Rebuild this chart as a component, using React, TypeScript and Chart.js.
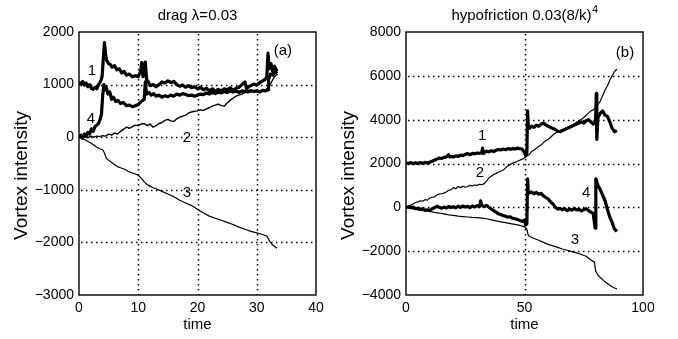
import React, { useEffect, useRef } from 'react';
import { Chart, registerables } from 'chart.js';

Chart.register(...registerables);

const FONT = '"Liberation Sans", Arial, Helvetica, sans-serif';

type Pt = [number, number];

// ---------- Panel (a): drag lambda = 0.03 ----------
const dragTitle = 'drag \u03bb=0.03';
const dragTitleSup = '';
const dragXTicks = [0, 10, 20, 30, 40];
const dragYTicks = [-3000, -2000, -1000, 0, 1000, 2000];

const drag1: Pt[] = [
  [0, 1040], [0.3, 1010], [0.6, 1060], [0.9, 990], [1.2, 1030], [1.5, 960], [1.8, 1000], [2.1, 930],
  [2.4, 910], [2.7, 950], [3.0, 920], [3.3, 1000], [3.6, 1050], [3.9, 1150], [4.1, 1500], [4.3, 1800],
  [4.5, 1550], [4.7, 1450], [5.0, 1400], [5.3, 1380], [5.6, 1330], [6.0, 1360], [6.4, 1280], [6.8, 1300],
  [7.2, 1220], [7.6, 1250], [8.0, 1180], [8.5, 1200], [9.0, 1150], [9.5, 1170], [10.0, 1150], [10.4, 1250],
  [10.6, 1420], [10.8, 1150], [11.0, 1200], [11.2, 1430], [11.4, 1100], [11.7, 1050], [12.0, 980], [12.5, 1000],
  [13.0, 960], [13.5, 1000], [14.0, 1050], [14.5, 1030], [15.0, 1070], [15.5, 1040], [16.0, 1060], [16.5, 1000],
  [17.0, 970], [17.5, 990], [18.0, 950], [18.5, 980], [19.0, 940], [19.5, 960], [20.0, 920], [20.5, 950],
  [21.0, 900], [21.5, 930], [22.0, 880], [22.5, 920], [23.0, 870], [23.5, 910], [24.0, 880], [24.5, 920],
  [25.0, 900], [25.5, 940], [26.0, 890], [26.5, 930], [27.0, 950], [27.5, 1000], [28.0, 1050], [28.3, 920],
  [28.6, 960], [29.0, 980], [29.5, 1010], [30.0, 990], [30.5, 1040], [31.0, 1070], [31.4, 1100], [31.7, 1150],
  [31.9, 1600], [32.1, 1300], [32.4, 1400], [32.7, 1250], [33.0, 1350], [33.3, 1280], [33.5, 1300],
];

const drag2: Pt[] = [
  [0, 0], [0.5, -20], [1, 10], [1.5, -10], [2, 20], [2.5, 0], [3, 20], [3.5, 10], [4, 30], [4.5, 20],
  [5, 60], [5.5, 40], [6, 80], [6.5, 60], [7, 110], [7.5, 150], [8, 190], [8.5, 170], [9, 200], [9.5, 230],
  [10, 220], [10.5, 250], [11, 260], [11.5, 220], [12, 250], [12.5, 190], [13, 220], [13.5, 260], [14, 280],
  [14.5, 320], [15, 340], [15.5, 310], [16, 300], [16.5, 350], [17, 380], [17.5, 400], [18, 420], [18.5, 460],
  [19, 480], [19.5, 494], [20, 500], [20.5, 520], [21, 510], [21.5, 540], [22, 560], [22.5, 590], [23, 610],
  [23.5, 630], [24, 600], [24.5, 590], [25, 650], [25.5, 700], [26, 740], [26.5, 780], [27, 800], [27.5, 820],
  [28, 850], [28.5, 870], [29, 860], [29.5, 880], [30, 870], [30.5, 880], [31, 890], [31.5, 900], [32, 950],
  [32.5, 1050], [33, 1150], [33.5, 1200],
];

const drag3: Pt[] = [
  [0, 0], [0.5, -20], [1, -50], [1.5, -80], [2, -110], [2.5, -150], [3, -190], [3.5, -220], [4, -240],
  [4.3, -300], [4.6, -400], [5, -440], [5.5, -480], [6, -520], [6.5, -560], [7, -580], [7.5, -600], [8, -630],
  [8.5, -660], [9, -680], [9.5, -700], [10, -720], [10.5, -780], [11, -850], [11.5, -900], [12, -930],
  [12.5, -960], [13, -980], [14, -1030], [15, -1080], [16, -1130], [17, -1200], [18, -1250], [19, -1300],
  [20, -1370], [21, -1440], [22, -1500], [23, -1540], [24, -1580], [25, -1620], [26, -1660], [27, -1710],
  [28, -1750], [29, -1790], [30, -1820], [31, -1850], [31.7, -1880], [32.2, -1980], [32.7, -2050], [33.4, -2110],
];

const drag4: Pt[] = [
  [0, 0], [0.3, 40], [0.6, -20], [0.9, 60], [1.2, 20], [1.5, 90], [1.8, 60], [2.1, 160], [2.4, 110],
  [2.7, 200], [3.0, 230], [3.3, 260], [3.6, 350], [3.8, 450], [4.0, 800], [4.2, 1000], [4.4, 900], [4.6, 950],
  [4.9, 820], [5.2, 860], [5.5, 720], [5.8, 760], [6.2, 680], [6.6, 700], [7.0, 640], [7.5, 660], [8.0, 600],
  [8.5, 610], [9.0, 580], [9.5, 600], [10.0, 620], [10.5, 680], [11.0, 720], [11.2, 1050], [11.4, 820],
  [11.8, 850], [12.2, 800], [12.6, 830], [13.0, 780], [13.5, 800], [14.0, 760], [14.5, 790], [15.0, 770],
  [15.5, 800], [16.0, 780], [16.5, 820], [17.0, 800], [17.5, 830], [18.0, 810], [18.5, 790], [19.0, 800],
  [19.5, 780], [20.0, 800], [20.5, 820], [21.0, 810], [21.5, 840], [22.0, 820], [22.5, 850], [23.0, 830],
  [23.5, 860], [24.0, 840], [24.5, 870], [25.0, 850], [25.5, 880], [26.0, 860], [26.5, 880], [27.0, 850],
  [27.5, 880], [28.0, 870], [28.5, 860], [29.0, 890], [29.5, 870], [30.0, 880], [30.5, 860], [31.0, 890],
  [31.5, 880], [31.9, 900], [32.0, 1100], [32.3, 1200], [32.7, 1180], [33.0, 1220], [33.5, 1250],
];

const dragLabels: { text: string; x: number; y: number }[] = [
  { text: '1', x: 2.2, y: 1255 },
  { text: '4', x: 2.0, y: 342 },
  { text: '2', x: 18.2, y: -19 },
  { text: '3', x: 18.2, y: -1065 },
  { text: '(a)', x: 34.4, y: 1635 },
];

// ---------- Panel (b): hypofriction ----------
const hypoTitle = 'hypofriction 0.03(8/k)';
const hypoTitleSup = '4';
const hypoXTicks = [0, 50, 100];
const hypoYTicks = [-4000, -2000, 0, 2000, 4000, 6000, 8000];

const hypo1: Pt[] = [
  [0, 2020], [1, 2000], [2, 2040], [3, 1990], [4, 2030], [5, 2000], [6, 2040], [7, 2010], [8, 2050], [9, 2020],
  [10, 2060], [11, 2100], [12, 2150], [13, 2200], [14, 2250], [15, 2230], [16, 2280], [17, 2300], [18, 2400],
  [18.5, 2300], [19, 2320], [20, 2300], [21, 2350], [22, 2320], [23, 2380], [24, 2360], [25, 2420], [26, 2450],
  [27, 2400], [28, 2460], [29, 2440], [30, 2480], [31, 2460], [32, 2500], [32.3, 2700], [32.6, 2450], [33, 2500],
  [34, 2560], [35, 2530], [36, 2580], [37, 2550], [38, 2600], [39, 2640], [40, 2620], [41, 2660], [42, 2630],
  [43, 2680], [44, 2650], [45, 2680], [46, 2660], [47, 2700], [48, 2680], [49, 2660], [50, 2500], [50.5, 2350],
  [51, 2450], [51.3, 4400], [51.6, 3700], [52, 3600], [53, 3700], [54, 3650], [55, 3750], [56, 3700], [57, 3800],
  [58, 3850], [59, 3750], [60, 3700], [61, 3650], [62, 3600], [63, 3550], [64, 3480], [65, 3450], [66, 3500],
  [67, 3550], [68, 3600], [69, 3650], [70, 3700], [71, 3750], [72, 3800], [73, 3850], [74, 3900], [75, 3850],
  [76, 3950], [77, 4000], [78, 3900], [79, 3800], [80, 3900], [80.3, 5200], [80.5, 3100], [81, 4100], [82, 4300],
  [83, 4400], [84, 4200], [85, 4150], [86, 3900], [87, 3600], [88, 3450], [89, 3500],
];

const hypo2: Pt[] = [
  [0, 0], [1, 40], [2, 100], [3, 150], [4, 220], [5, 250], [6, 300], [7, 280], [8, 350], [9, 330], [10, 420],
  [11, 460], [12, 480], [13, 560], [14, 600], [15, 620], [16, 650], [17, 700], [18, 780], [19, 800], [20, 900],
  [21, 850], [22, 950], [23, 900], [24, 960], [25, 920], [26, 950], [27, 1000], [28, 980], [29, 1020], [30, 1000],
  [31, 1050], [32, 1030], [33, 1080], [34, 1200], [35, 1350], [36, 1420], [37, 1500], [38, 1550], [39, 1600],
  [40, 1650], [41, 1700], [42, 1800], [43, 1900], [44, 1950], [45, 2020], [46, 2050], [47, 2100], [48, 2150],
  [49, 2200], [50, 2250], [51, 2350], [52, 2400], [53, 2550], [54, 2620], [55, 2700], [56, 2780], [57, 2850],
  [58, 2950], [59, 3050], [60, 3100], [61, 3200], [62, 3300], [63, 3380], [64, 3450], [65, 3500], [66, 3550],
  [67, 3600], [68, 3650], [69, 3700], [70, 3750], [71, 3800], [72, 3880], [73, 3950], [74, 4020], [75, 4100],
  [76, 4200], [77, 4300], [78, 4400], [79, 4450], [80, 4550], [81, 4700], [82, 4850], [83, 5100], [84, 5350],
  [85, 5550], [86, 5800], [87, 6000], [88, 6200], [89, 6300],
];

const hypo3: Pt[] = [
  [0, 0], [2, -50], [4, -100], [6, -130], [8, -160], [10, -190], [12, -230], [14, -260], [16, -300], [18, -340],
  [20, -370], [22, -400], [24, -420], [26, -440], [28, -460], [30, -470], [32, -490], [34, -520], [36, -570],
  [38, -620], [40, -660], [42, -700], [44, -740], [46, -780], [48, -820], [50, -880], [51, -1000], [51.5, -1250],
  [52, -1320], [54, -1420], [56, -1500], [58, -1600], [60, -1690], [62, -1760], [64, -1830], [66, -1900],
  [68, -1960], [70, -2020], [72, -2080], [74, -2150], [76, -2230], [78, -2400], [79.5, -2500], [80, -2900],
  [81, -3100], [82, -3200], [83, -3300], [84, -3400], [85, -3480], [86, -3560], [87, -3620], [88, -3680], [89, -3720],
];

const hypo4: Pt[] = [
  [0, 0], [1, 30], [2, -20], [3, 10], [4, -60], [5, -40], [6, -90], [7, -70], [8, -130], [9, -110], [10, -150],
  [11, -60], [12, -20], [13, 50], [14, 0], [15, -40], [16, 10], [17, -30], [18, 40], [19, -10], [20, 30],
  [21, -20], [22, 50], [23, 0], [24, 60], [25, 10], [26, 50], [27, -10], [28, 60], [29, 20], [30, 80], [31, 30],
  [31.5, 300], [32, 80], [33, 40], [34, 90], [35, 0], [36, -80], [37, -150], [38, -220], [39, -300], [40, -330],
  [41, -380], [42, -400], [43, -450], [44, -430], [45, -500], [46, -520], [47, -560], [48, -600], [49, -640],
  [50, -580], [50.5, -800], [51, -750], [51.3, 1300], [51.6, 700], [52, 650], [53, 700], [54, 620], [55, 680],
  [56, 600], [57, 640], [58, 520], [59, 450], [60, 380], [61, 250], [62, 150], [63, 0], [64, -80], [65, -50],
  [66, -120], [67, -60], [68, -150], [69, -80], [70, -130], [71, -50], [72, -120], [73, -90], [74, -160],
  [75, -100], [76, -60], [77, -150], [78, -220], [79, -280], [79.8, -950], [80.1, 1300], [81, 1000], [82, 800],
  [83, 550], [84, 300], [85, -100], [86, -450], [87, -700], [88, -1000], [89, -1100],
];

const hypoLabels: { text: string; x: number; y: number }[] = [
  { text: '1', x: 32.1, y: 3250 },
  { text: '2', x: 31.2, y: 1560 },
  { text: '4', x: 76, y: 650 },
  { text: '3', x: 71.3, y: -1490 },
  { text: '(b)', x: 92.4, y: 7036 },
];

const yAxisLabel = 'Vortex intensity';
const xAxisLabel = 'time';

// ---------- helpers ----------
const toXY = (a: Pt[]) => a.map(([x, y]) => ({ x, y }));
const fmt = (v: number) => (v < 0 ? '\u2212' + Math.abs(v) : String(v));

interface PanelSpec {
  title: string;
  sup: string;
  series: Pt[][];
  widths: number[];
  xTicks: number[];
  yTicks: number[];
  labels: { text: string; x: number; y: number }[];
  yAxisWidth: number;
  yLabelX: number;
  padRight: number;
}

// dotted grid, frame box, curve numbers, titles (closure over the panel spec)
function makeDecorPlugin(p: PanelSpec) {
  return {
    id: 'panelDecor',
    afterDatasetsDraw(chart: any) {
      const ctx: CanvasRenderingContext2D = chart.ctx;
      const a = chart.chartArea;
      const sx = chart.scales.x;
      const sy = chart.scales.y;
      const L = a.left, R = a.right, T = a.top, B = a.bottom;
      ctx.save();
      ctx.fillStyle = '#000';
      ctx.strokeStyle = '#000';
      ctx.lineWidth = 1.5;
      ctx.setLineDash([1.5, 3.5]);
      // vertical dotted grid lines
      for (let i = 0; i < p.xTicks.length; i++) {
        const px = Math.round(sx.getPixelForValue(p.xTicks[i])) + 0.5;
        if (!(px > L + 1 && px < R - 1)) continue;
        ctx.beginPath();
        ctx.moveTo(px, T + 2);
        ctx.lineTo(px, B);
        ctx.stroke();
      }
      // horizontal dotted grid lines
      for (let i = 0; i < p.yTicks.length; i++) {
        const py = Math.round(sy.getPixelForValue(p.yTicks[i])) + 0.5;
        if (!(py > T + 1 && py < B - 1)) continue;
        ctx.beginPath();
        ctx.moveTo(L + 2, py);
        ctx.lineTo(R, py);
        ctx.stroke();
      }
      ctx.setLineDash([]);
      // frame
      ctx.lineWidth = 1.4;
      ctx.strokeRect(L, T, R - L, B - T);
      // curve numbers and panel tag
      ctx.font = `15px ${FONT}`;
      ctx.textAlign = 'center';
      ctx.textBaseline = 'middle';
      for (const it of p.labels) {
        ctx.fillText(it.text, sx.getPixelForValue(it.x), sy.getPixelForValue(it.y));
      }
      // panel title with optional superscript, centred on the plot area
      const cx = (L + R) / 2;
      ctx.font = `15px ${FONT}`;
      const mainW = ctx.measureText(p.title).width;
      ctx.font = `11px ${FONT}`;
      const supW = p.sup ? ctx.measureText(p.sup).width : 0;
      const start = cx - (mainW + supW) / 2;
      ctx.textAlign = 'left';
      ctx.textBaseline = 'alphabetic';
      ctx.font = `15px ${FONT}`;
      ctx.fillText(p.title, start, 20);
      if (p.sup) {
        ctx.font = `11px ${FONT}`;
        ctx.fillText(p.sup, start + mainW + 0.5, 13);
      }
      // y-axis label
      ctx.font = `19px ${FONT}`;
      ctx.textAlign = 'center';
      ctx.textBaseline = 'middle';
      ctx.translate(p.yLabelX, (T + B) / 2 + 12);
      ctx.rotate(-Math.PI / 2);
      ctx.fillText(yAxisLabel, 0, 0);
      ctx.restore();
    },
  };
}

function makeConfig(p: PanelSpec): any {
  const xStep = p.xTicks[1] - p.xTicks[0];
  const yStep = p.yTicks[1] - p.yTicks[0];
  return {
    type: 'line',
    data: {
      datasets: p.series.map((s, i) => ({
        data: toXY(s),
        borderColor: '#000',
        backgroundColor: '#000',
        borderWidth: p.widths[i],
        pointRadius: 0,
        tension: 0,
        fill: false,
        borderJoinStyle: 'round',
      })),
    },
    options: {
      responsive: false,
      animation: false,
      events: [],
      layout: { padding: { left: 0, right: p.padRight, top: 32, bottom: 0 } },
      plugins: {
        legend: { display: false },
        tooltip: { enabled: false },
        title: { display: false },
      },
      scales: {
        x: {
          type: 'linear',
          min: p.xTicks[0],
          max: p.xTicks[p.xTicks.length - 1],
          afterFit: (s: any) => { s.height = 44; },
          ticks: {
            stepSize: xStep,
            color: '#000',
            padding: 5,
            maxRotation: 0,
            font: { family: FONT, size: 14 },
            callback: (v: number) => fmt(v),
          },
          grid: { display: false, drawTicks: false },
          border: { display: false },
          title: {
            display: true,
            text: xAxisLabel,
            color: '#000',
            font: { family: FONT, size: 15, lineHeight: 1.2 },
            padding: { top: 0, bottom: 5 },
          },
        },
        y: {
          type: 'linear',
          min: p.yTicks[0],
          max: p.yTicks[p.yTicks.length - 1],
          afterFit: (s: any) => { s.width = p.yAxisWidth; },
          ticks: {
            stepSize: yStep,
            color: '#000',
            padding: 5,
            font: { family: FONT, size: 14 },
            callback: (v: number) => fmt(v),
          },
          grid: { display: false, drawTicks: false },
          border: { display: false },
        },
      },
    },
    plugins: [makeDecorPlugin(p)],
  };
}

function Panel({ spec, width, left }: { spec: PanelSpec; width: number; left: number }) {
  const ref = useRef<HTMLCanvasElement | null>(null);
  useEffect(() => {
    if (!ref.current) return;
    const chart = new Chart(ref.current, makeConfig(spec));
    return () => chart.destroy();
  }, [spec]);
  return (
    <div style={{ position: 'absolute', left, top: 0, width, height: 339 }}>
      <canvas ref={ref} width={width} height={339} style={{ width, height: 339, display: 'block' }} />
    </div>
  );
}

const dragSpec: PanelSpec = {
  title: dragTitle,
  sup: dragTitleSup,
  series: [drag3, drag2, drag4, drag1],
  widths: [1.2, 1.4, 3.2, 3.2],
  xTicks: dragXTicks,
  yTicks: dragYTicks,
  labels: dragLabels,
  yAxisWidth: 79,
  yLabelX: 22,
  padRight: 24,
};

const hypoSpec: PanelSpec = {
  title: hypoTitle,
  sup: hypoTitleSup,
  series: [hypo3, hypo2, hypo4, hypo1],
  widths: [1.2, 1.2, 3.2, 3.2],
  xTicks: hypoXTicks,
  yTicks: hypoYTicks,
  labels: hypoLabels,
  yAxisWidth: 66,
  yLabelX: 9,
  padRight: 35,
};

export default function App() {
  return (
    <div style={{ position: 'absolute', left: 0, top: 0, width: 678, height: 339, background: '#fff' }}>
      <Panel spec={dragSpec} width={340} left={0} />
      <Panel spec={hypoSpec} width={338} left={340} />
    </div>
  );
}
